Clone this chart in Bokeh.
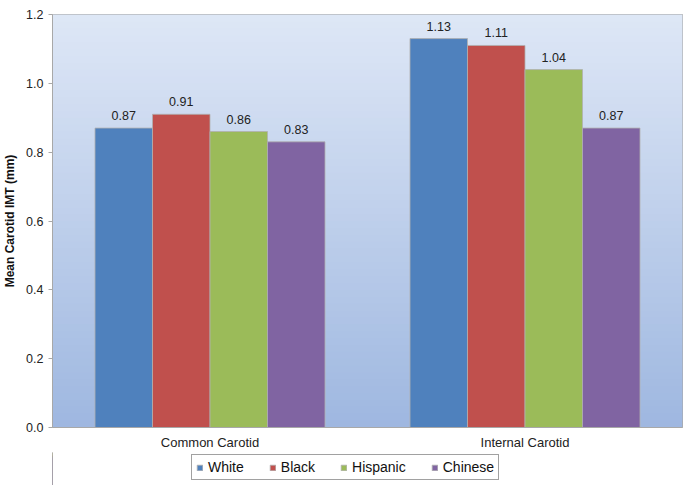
from bokeh.plotting import figure
from bokeh.models import (FactorRange, Range1d, BoxAnnotation, ColumnDataSource,
                          Legend, LegendItem, FixedTicker, NumeralTickFormatter)
from bokeh.layouts import column
from bokeh.transform import dodge
from bokeh.embed import file_html
from bokeh.resources import INLINE
from bokeh.core.properties import value

groups = ["Common Carotid", "Internal Carotid"]
races = ["White", "Black", "Hispanic", "Chinese"]
white = [0.87, 1.13]
black = [0.91, 1.11]
hispanic = [0.86, 1.04]
chinese = [0.83, 0.87]
y_ticks = [0.0, 0.2, 0.4, 0.6, 0.8, 1.0, 1.2]
colors = ["#4F81BD", "#C0504D", "#9BBB59", "#8064A2"]

series = [white, black, hispanic, chinese]
FONT = "Liberation Sans"

p = figure(x_range=FactorRange(*groups, range_padding=0),
           y_range=Range1d(0, 1.2),
           frame_width=630, frame_height=413,
           output_backend="svg", toolbar_location=None,
           min_border_left=52, min_border_top=14, min_border_right=2,
           min_border_bottom=21)

# gradient background (overlapping strips to avoid seams)
n = 60
top_c = (222, 231, 246)
bot_c = (158, 183, 224)
for i in range(n):
    f = (i + 0.5) / n
    c = tuple(int(round(bot_c[k] + (top_c[k] - bot_c[k]) * f)) for k in range(3))
    p.add_layout(BoxAnnotation(bottom=1.2 * i / n, top=min(1.2, 1.2 * (i + 2) / n),
                               fill_color="#%02x%02x%02x" % c, fill_alpha=1,
                               line_color=None, level="underlay"))

# separate strip figure that only holds the legend
pl = figure(width=684, height=33, x_range=Range1d(0, 1), y_range=Range1d(0, 1),
            output_backend="svg", toolbar_location=None,
            x_axis_type=None, y_axis_type=None, min_border=0,
            outline_line_color=None)

bw = 57.5 / 315.0
offsets = [-1.5 * bw, -0.5 * bw, 0.5 * bw, 1.5 * bw]
items = []
for name, vals, col, off in zip(races, series, colors, offsets):
    src = ColumnDataSource(dict(x=groups, y=vals, t=["%.2f" % v for v in vals]))
    p.vbar(x=dodge("x", off, range=p.x_range), top="y", width=bw, source=src,
           fill_color=col, line_color="#b0b0b0", line_alpha=0.8, line_width=1)
    p.text(x=dodge("x", off, range=p.x_range), y="y", text="t", source=src,
           text_align="center", text_baseline="bottom", y_offset=-8,
           text_font=value(FONT), text_font_size="12.5px", text_color="#222222")
    # legend swatch renderer (placed far outside the strip's visible range)
    lsrc = ColumnDataSource(dict(x=[-50.0] * len(vals), y=vals))
    lr = pl.vbar(x="x", top="y", width=0.5, source=lsrc,
                 fill_color=col, line_color="#b0b0b0", line_alpha=0.8, line_width=1)
    items.append(LegendItem(label=name, renderers=[lr]))

p.xgrid.visible = False
p.ygrid.visible = False
p.outline_line_color = "#a8a8a8"
p.background_fill_color = None

ya = p.yaxis[0]
ya.ticker = FixedTicker(ticks=y_ticks)
ya.formatter = NumeralTickFormatter(format="0.0")
ya.axis_label = "Mean Carotid IMT (mm)"
ya.axis_label_text_font = FONT
ya.axis_label_text_font_style = "bold"
ya.axis_label_text_font_size = "12px"
ya.axis_label_text_color = "#111111"
ya.axis_label_standoff = 6
ya.major_label_text_font = FONT
ya.major_label_text_font_size = "12.5px"
ya.major_label_text_color = "#222222"
ya.major_tick_in = 0
ya.major_tick_out = 4
ya.minor_tick_line_color = None
ya.major_tick_line_color = "#a8a8a8"
ya.axis_line_color = "#a8a8a8"

xa = p.xaxis[0]
xa.major_label_text_font = FONT
xa.major_label_text_font_size = "13px"
xa.major_label_text_color = "#222222"
xa.major_tick_line_color = None
xa.axis_line_color = "#a8a8a8"
xa.major_label_standoff = 1

legend = Legend(items=items, orientation="horizontal", location=(139, 5),
                label_text_font=FONT, label_text_font_size="14px",
                label_text_color="#111111",
                glyph_width=7, glyph_height=7, label_height=15,
                label_standoff=5, spacing=25, padding=4,
                border_line_color="#444444", border_line_width=1,
                background_fill_color="white", margin=0)
pl.add_layout(legend, "center")

layout = column(p, pl, spacing=0)
open("out.html", "w").write(file_html(layout, INLINE))
